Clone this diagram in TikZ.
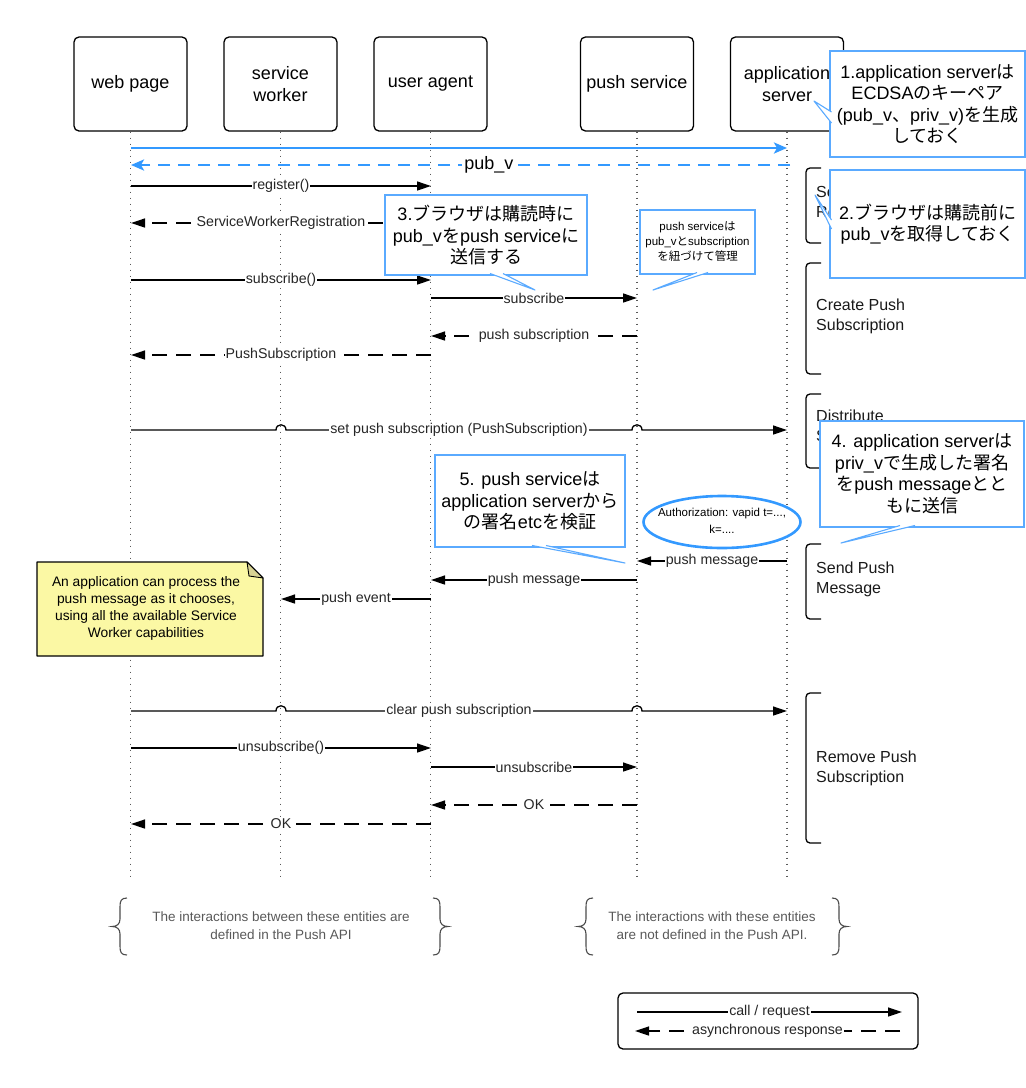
\documentclass[tikz,border=0pt]{standalone}
\usepackage{fontspec}
\setmainfont{Liberation Sans}
\newfontfamily\jpfont{Noto Sans CJK JP}
\newcommand\jp[1]{{\jpfont #1}}
\usetikzlibrary{arrows.meta,shapes.geometric}
\definecolor{ablue}{HTML}{3399FF}
\definecolor{cblue}{HTML}{5AAAFF}
\definecolor{noteY}{HTML}{FBF8A4}
\definecolor{foldC}{HTML}{D8D394}
\newcommand\mylbr[1]{\draw[brc] (#1+7,898) .. controls (#1+1,898) and (#1,901) .. (#1,907) -- (#1,919) .. controls (#1,924) and (#1-3,926.5) .. (#1-8,926.5) .. controls (#1-3,926.5) and (#1,929) .. (#1,934) -- (#1,946) .. controls (#1,952) and (#1+1,955) .. (#1+7,955);}
\newcommand\myrbr[1]{\draw[brc] (#1-7,898) .. controls (#1-1,898) and (#1,901) .. (#1,907) -- (#1,919) .. controls (#1,924) and (#1+3,926.5) .. (#1+8,926.5) .. controls (#1+3,926.5) and (#1,929) .. (#1,934) -- (#1,946) .. controls (#1,952) and (#1-1,955) .. (#1-7,955);}
\begin{document}
\begin{tikzpicture}[x=1pt,y=-1pt,
  actor/.style={draw=black,line width=1.3pt,rounded corners=5pt,fill=white,minimum width=113pt,minimum height=94pt,align=center,inner sep=0pt,font=\fontsize{18}{22}\selectfont},
  life/.style={draw=black!65,line width=1.1pt,dash pattern=on 1.2pt off 4.8pt},
  msg/.style={draw=black,line width=1.3pt,-{Triangle[length=14pt,width=9pt]}},
  rsp/.style={msg,dash pattern=on 15pt off 9pt},
  bmsg/.style={draw=ablue,line width=2.6pt,-{Stealth[length=13pt,width=11pt,inset=3pt]}},
  brsp/.style={bmsg,dash pattern=on 12pt off 8pt},
  lbl/.style={fill=white,inner sep=1pt,text=black!85,font=\fontsize{14.2}{16}\selectfont},
  brk/.style={draw=black,line width=1.3pt,rounded corners=4pt},
  brklbl/.style={anchor=west,align=left,inner sep=0pt,text=black!90,font=\fontsize{16}{20}\selectfont},
  callout/.style={draw=cblue,fill=white,line width=1.2pt,align=center,inner sep=0pt,font=\fontsize{18}{21.5}\selectfont},
  tail/.style={draw=cblue,fill=white,line width=1.1pt,line join=round},
  brc/.style={draw=black!70,line width=1.1pt},
  btxt/.style={align=center,text=black!65,font=\fontsize{13.5}{18}\selectfont}
]
\useasboundingbox (0,0) rectangle (1026,1088);
\def\xw{131}\def\xs{281}\def\xu{431}\def\xp{637}\def\xa{787}
% actors
\node[actor] (wp) at (130.5,84) {web page};
\node[actor] (sw) at (280.5,84) {service\\worker};
\node[actor] (ua) at (430.5,84) {user agent};
\node[actor] (ps) at (637,84) {push service};
\node[actor] (as) at (787,84) {application\\server};
% lifelines
\foreach \n in {wp,sw,ua,ps,as} \draw[life] (\n.south) -- ++(0,749);
% brackets
\draw[brk] (821,168) -| (806,243) -- (821,243);
\node[brklbl] (b1) at (816,203) {Service Worker\\Registration};
\draw[brk] (821,263) -| (806,374) -- (821,374);
\node[brklbl] (b2) at (816,316) {Create Push\\Subscription};
\draw[brk] (821,394) -| (806,468) -- (821,468);
\node[brklbl] (b3) at (816,427) {Distribute\\Subscription};
\draw[brk] (821,544) -| (806,619) -- (821,619);
\node[brklbl] (b4) at (816,579) {Send Push\\Message};
\draw[brk] (821,693) -| (806,843) -- (821,843);
\node[brklbl] (b5) at (816,768) {Remove Push\\Subscription};
% blue messages
\draw[bmsg] (\xw,148) -- (\xa,148);
\draw[brsp] (\xa+3,165) -- node[pos=0.457,fill=white,inner sep=2pt,font=\fontsize{18}{20}\selectfont] (lpub) {pub\_v} (\xw,165);
% messages
\draw[msg] (\xw,186) -- node[lbl] (l1) {register()} (\xu,186);
\draw[rsp] (\xu,223) -- node[lbl] (l2) {ServiceWorkerRegistration} (\xw,223);
\draw[msg] (\xw,280) -- node[lbl] (l3) {subscribe()} (\xu,280);
\draw[msg] (\xu,298) -- node[lbl] (l4) {subscribe} (\xp,298);
\draw[rsp] (\xp,336) -- node[lbl] (l5) {push subscription} (\xu,336);
\draw[rsp] (\xu,355) -- node[lbl] (l6) {PushSubscription} (\xw,355);
\draw[msg] (\xw,430) -- (276,430) .. controls (276,423) and (286,423) .. (286,430) -- (632,430) .. controls (632,423) and (642,423) .. (642,430) -- (\xa,430);
\node[lbl] (l7) at (459,430) {set push subscription (PushSubscription)};
\draw[msg] (\xa,561) -- node[lbl] (l8) {push message} (\xp,561);
\draw[msg] (\xp,580) -- node[lbl] (l9) {push message} (\xu,580);
\draw[msg] (\xu,599) -- node[lbl] (l10) {push event} (\xs,599);
\draw[msg] (\xw,711) -- (276,711) .. controls (276,704) and (286,704) .. (286,711) -- (632,711) .. controls (632,704) and (642,704) .. (642,711) -- (\xa,711);
\node[lbl] (l11) at (459,711) {clear push subscription};
\draw[msg] (\xw,748) -- node[lbl] (l12) {unsubscribe()} (\xu,748);
\draw[msg] (\xu,767) -- node[lbl] (l13) {unsubscribe} (\xp,767);
\draw[rsp] (\xp,805) -- node[lbl] (l14) {OK} (\xu,805);
\draw[rsp] (\xu,824) -- node[lbl] (l15) {OK} (\xw,824);
% note
\filldraw[fill=noteY,draw=black,line width=1.2pt,line join=round] (37,566) -- (37,562) -- (247,562) -- (263,578) -- (263,656) -- (37,656) -- cycle;
\filldraw[fill=foldC,draw=black,line width=0.9pt,line join=round] (247,562) -- (263,578) -- (249,576) -- cycle;
\node[align=center,inner sep=0pt,font=\fontsize{13.8}{17}\selectfont] (note) at (146,608) {An application can process the\\push message as it chooses,\\using all the available Service\\Worker capabilities};
% ellipse
\node[ellipse,draw=ablue,line width=2.6pt,fill=white,minimum width=157pt,minimum height=52pt,inner sep=0pt] (authE) at (722,522) {};
\node[align=center,inner sep=0pt,font=\fontsize{11.5}{17}\selectfont] (auth) at (722,521) {Authorization: vapid t=...,\\k=....};
% callouts
\node[callout,minimum width=195pt,minimum height=106pt] (c1) at (927.5,104) {1.application server\jp{は}\\ECDSA\jp{のキーペア}\\(pub\_v\jp{、}priv\_v)\jp{を生成}\\\jp{しておく}};
\draw[tail] (831.5,112) -- (814,101) -- (831.5,123);
\node[callout,minimum width=195pt,minimum height=108pt] (c2) at (927.5,224) {2.\jp{ブラウザは購読前に}\\pub\_v\jp{を取得しておく}};
\draw[tail] (831.5,220) -- (815,195) -- (831.5,229);
\node[callout,minimum width=202pt,minimum height=80pt] (c3) at (486,235) {3.\jp{ブラウザは購読時に}\\pub\_v\jp{を}push service\jp{に}\\\jp{送信する}};
\draw[tail] (490,273.5) -- (535,290) -- (503,273.5);
\node[callout,minimum width=115pt,minimum height=64pt,font=\fontsize{11.5}{15}\selectfont] (c4) at (697.5,242) {push service\jp{は}\\pub\_v\jp{と}subscription\\\jp{を紐づけて管理}};
\draw[tail] (697,272.5) -- (653,290) -- (708,272.5);
\node[callout,minimum width=204pt,minimum height=106pt] (c5) at (922,474) {4. application server\jp{は}\\priv\_v\jp{で生成した署名}\\\jp{を}push message\jp{とと}\\\jp{もに送信}};
\draw[tail] (900,525.5) -- (841,543) -- (915,525.5);
\node[callout,minimum width=190pt,minimum height=92pt] (c6) at (530,501) {5. push service\jp{は}\\application server\jp{から}\\\jp{の署名}etc\jp{を検証}};
\draw[tail] (532,545.5) -- (625,563) -- (546,545.5);
% bottom notes
\mylbr{120}
\myrbr{440}
\node[btxt] (bt1) at (281,926) {The interactions between these entities are\\defined in the Push API};
\mylbr{586}
\myrbr{839}
\node[btxt] (bt2) at (712,926) {The interactions with these entities\\are not defined in the Push API.};
% legend
\node[draw=black,line width=1.3pt,rounded corners=5pt,fill=white,minimum width=300pt,minimum height=56pt] (legend) at (768,1021) {};
\draw[msg] (637,1012) -- node[lbl] (lg1) {call / request} (902,1012);
\draw[rsp] (900,1031) -- node[lbl] (lg2) {asynchronous response} (635,1031);
\end{tikzpicture}
\end{document}
